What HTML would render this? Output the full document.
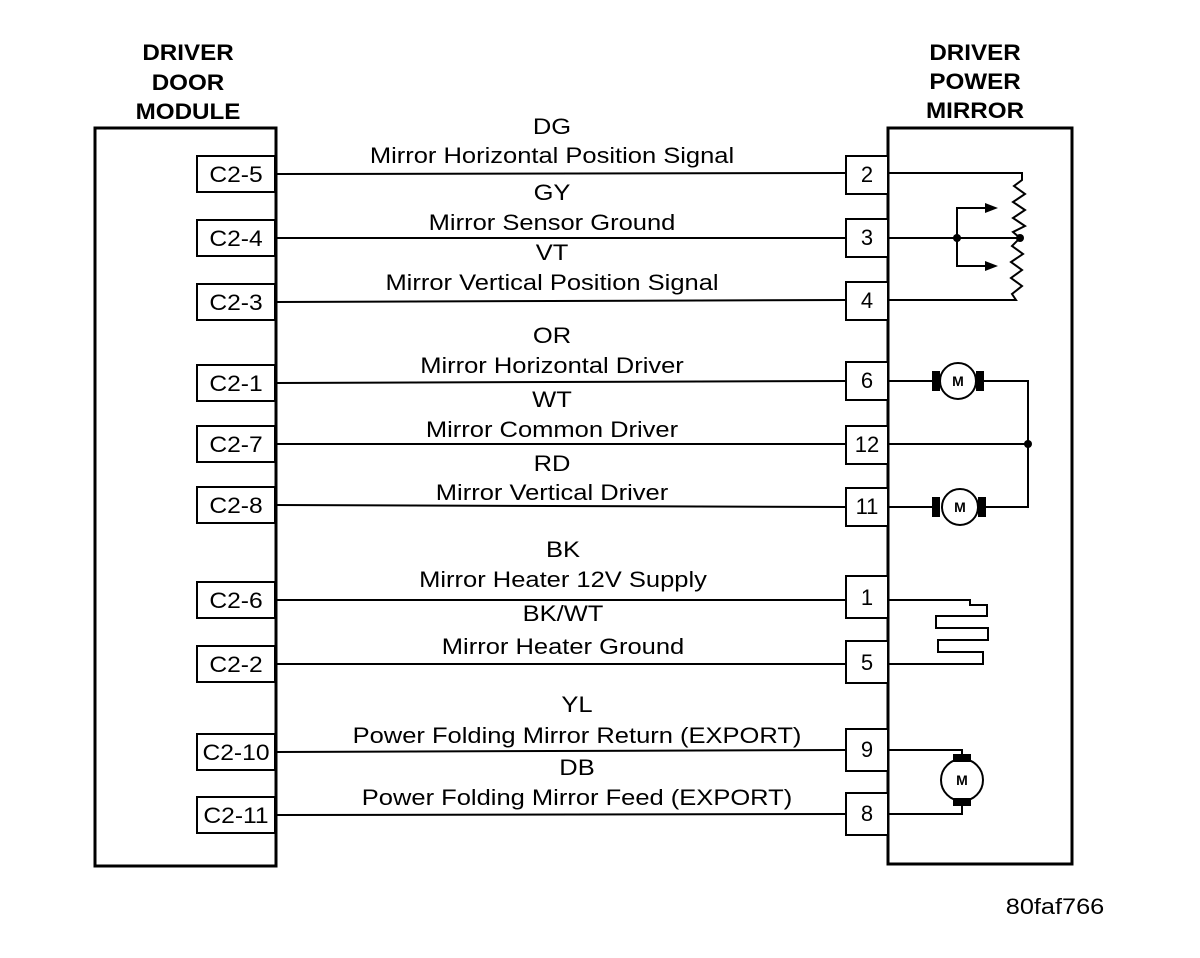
<!DOCTYPE html>
<html><head><style>
body{margin:0;background:#fff}
svg{display:block}
text{font-family:"Liberation Sans",Arial,sans-serif;fill:#000}
</style></head><body>
<svg width="1200" height="958" viewBox="0 0 1200 958" xmlns="http://www.w3.org/2000/svg">
<g stroke="#000" fill="none">
<rect x="95" y="128" width="181" height="738" stroke-width="3"/>
<rect x="888" y="128" width="184" height="736" stroke-width="3"/>
<g stroke-width="2" fill="#fff">
<rect x="197" y="156" width="78" height="36"/>
<rect x="197" y="220" width="78" height="36"/>
<rect x="197" y="284" width="78" height="36"/>
<rect x="197" y="365" width="78" height="36"/>
<rect x="197" y="426" width="78" height="36"/>
<rect x="197" y="487" width="78" height="36"/>
<rect x="197" y="582" width="78" height="36"/>
<rect x="197" y="646" width="78" height="36"/>
<rect x="197" y="734" width="78" height="36"/>
<rect x="197" y="797" width="78" height="36"/>
<rect x="846" y="156" width="42" height="38"/>
<rect x="846" y="219" width="42" height="38"/>
<rect x="846" y="282" width="42" height="38"/>
<rect x="846" y="362" width="42" height="38"/>
<rect x="846" y="426" width="42" height="38"/>
<rect x="846" y="488" width="42" height="38"/>
<rect x="846" y="576" width="42" height="42"/>
<rect x="846" y="641" width="42" height="42"/>
<rect x="846" y="729" width="42" height="42"/>
<rect x="846" y="793" width="42" height="42"/>
</g>
<g stroke-width="2">
<line x1="276" y1="174" x2="846" y2="173"/>
<line x1="276" y1="238" x2="846" y2="238"/>
<line x1="276" y1="302" x2="846" y2="300"/>
<line x1="276" y1="383" x2="846" y2="381"/>
<line x1="276" y1="444" x2="846" y2="444"/>
<line x1="276" y1="505" x2="846" y2="507"/>
<line x1="276" y1="600" x2="846" y2="600"/>
<line x1="276" y1="664" x2="846" y2="664"/>
<line x1="276" y1="752" x2="846" y2="750"/>
<line x1="276" y1="815" x2="846" y2="814"/>
<polyline points="888,173 1022,173 1022,180 1014,186 1025,194 1013,202 1025,210 1013,218 1025,226 1013,232 1020,238"/>
<polyline points="1020,238 1012,246 1023,254 1011,262 1022,270 1011,278 1022,286 1012,294 1016,300 888,300"/>
<line x1="888" y1="238" x2="1020" y2="238"/>
<polyline points="957,238 957,208 985,208"/>
<polyline points="957,238 957,266 985,266"/>
<line x1="888" y1="381" x2="934" y2="381"/>
<polyline points="984,381 1028,381 1028,507 984,507"/>
<line x1="888" y1="444" x2="1028" y2="444"/>
<line x1="888" y1="507" x2="934" y2="507"/>
<circle cx="958" cy="381" r="18" fill="#fff"/>
<circle cx="960" cy="507" r="18" fill="#fff"/>
<polyline points="888,600 970,600 970,605 987,605 987,616 936,616 936,628 988,628 988,640 938,640 938,652 983,652 983,664 888,664"/>
<polyline points="888,750 962,750 962,756"/>
<polyline points="888,814 962,814 962,806"/>
<circle cx="962" cy="780" r="21" fill="#fff"/>
</g>
</g>
<g fill="#000">
<polygon points="985,203 998,208 985,213"/>
<polygon points="985,261 998,266 985,271"/>
<circle cx="957" cy="238" r="4"/><circle cx="1020" cy="238" r="4"/><circle cx="1028" cy="444" r="4"/>
<rect x="932" y="371" width="8" height="20"/><rect x="976" y="371" width="8" height="20"/>
<rect x="932" y="497" width="8" height="20"/><rect x="978" y="497" width="8" height="20"/>
<rect x="953" y="754" width="18" height="8"/><rect x="953" y="798" width="18" height="8"/>
</g>
<g font-size="14" font-weight="bold" text-anchor="middle">
<text x="958" y="386">M</text><text x="960" y="512">M</text><text x="962" y="785">M</text>
</g>
<g font-size="22" font-weight="bold" text-anchor="middle">
<g transform="translate(188,0) scale(1.1,1)"><text x="0" y="60">DRIVER</text><text x="0" y="90">DOOR</text><text x="0" y="119">MODULE</text></g>
<g transform="translate(975,0) scale(1.1,1)"><text x="0" y="60">DRIVER</text><text x="0" y="89">POWER</text><text x="0" y="118">MIRROR</text></g>
</g>
<g font-size="22" text-anchor="middle">
<g transform="translate(236,0) scale(1.12,1)">
<text x="0" y="182">C2-5</text><text x="0" y="246">C2-4</text><text x="0" y="310">C2-3</text>
<text x="0" y="391">C2-1</text><text x="0" y="452">C2-7</text><text x="0" y="513">C2-8</text>
<text x="0" y="608">C2-6</text><text x="0" y="672">C2-2</text><text x="0" y="760">C2-10</text>
<text x="0" y="823">C2-11</text></g>
<text x="867" y="182">2</text><text x="867" y="245">3</text><text x="867" y="308">4</text>
<text x="867" y="388">6</text><text x="867" y="452">12</text><text x="867" y="514">11</text>
<text x="867" y="605">1</text><text x="867" y="670">5</text><text x="867" y="757">9</text>
<text x="867" y="821">8</text>
<g transform="translate(1055,0) scale(1.15,1)"><text x="0" y="914">80faf766</text></g>
<g transform="translate(552,0) scale(1.16,1)">
<text x="0" y="134">DG</text><text x="0" y="163">Mirror Horizontal Position Signal</text>
<text x="0" y="200">GY</text><text x="0" y="230">Mirror Sensor Ground</text>
<text x="0" y="260">VT</text><text x="0" y="290">Mirror Vertical Position Signal</text>
<text x="0" y="343">OR</text><text x="0" y="373">Mirror Horizontal Driver</text>
<text x="0" y="407">WT</text><text x="0" y="437">Mirror Common Driver</text>
<text x="0" y="471">RD</text><text x="0" y="500">Mirror Vertical Driver</text>
</g>
<g transform="translate(563,0) scale(1.16,1)">
<text x="0" y="557">BK</text><text x="0" y="587">Mirror Heater 12V Supply</text>
<text x="0" y="621">BK/WT</text><text x="0" y="654">Mirror Heater Ground</text>
</g>
<g transform="translate(577,0) scale(1.16,1)">
<text x="0" y="712">YL</text><text x="0" y="743">Power Folding Mirror Return (EXPORT)</text>
<text x="0" y="775">DB</text><text x="0" y="805">Power Folding Mirror Feed (EXPORT)</text>
</g>
</g>
</svg>
</body></html>
